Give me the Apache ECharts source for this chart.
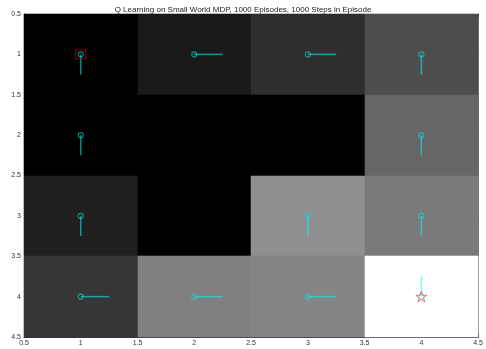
<!DOCTYPE html>
<html>
<head>
<meta charset="utf-8">
<script src="https://cdn.jsdelivr.net/npm/echarts@6/dist/echarts.min.js"></script>
<style>
  html, body { margin: 0; padding: 0; background: #fff; }
  #chart { width: 486px; height: 349px; }
</style>
</head>
<body>
<div id="chart"></div>
<script>
// Grid world: column (x) and row (y) indices
const cols = [1, 2, 3, 4];
const rows = [1, 2, 3, 4];

// Max state value per cell, rows top to bottom (0 = black, 1 = white)
const valueRow1 = [0.00, 0.10, 0.18, 0.30];
const valueRow2 = [0.00, 0.00, 0.00, 0.40];
const valueRow3 = [0.12, 0.00, 0.56, 0.48];
const valueRow4 = [0.21, 0.50, 0.52, 1.00];
const values = [valueRow1, valueRow2, valueRow3, valueRow4];

// Greedy action per cell: [dx, dy]; null marks a wall
const actionRow1 = [[0, 0.25], [0.25, 0], [0.25, 0], [0, 0.25]];
const actionRow2 = [[0, 0.25], null, null, [0, 0.25]];
const actionRow3 = [[0, 0.25], null, [0, 0.25], [0, 0.25]];
const actionRow4 = [[0.25, 0], [0.25, 0], [0.25, 0], [0, -0.25]];
const actions = [actionRow1, actionRow2, actionRow3, actionRow4];

const startCell = [1, 1];
const goalCell = [4, 4];

const titleText = 'Q Learning on Small World MDP, 1000 Episodes, 1000 Steps in Episode';

// Build data tables
const cellData = [];
const arrowData = [];
const originData = [];
rows.forEach((r, i) => {
  cols.forEach((c, j) => {
    cellData.push([c, r, values[i][j]]);
    const a = actions[i][j];
    if (a) {
      arrowData.push([c, r, a[0], a[1]]);
      originData.push([c, r]);
    }
  });
});

function grayOf(v) {
  const g = Math.round(Math.max(0, Math.min(1, v)) * 255);
  return 'rgb(' + g + ',' + g + ',' + g + ')';
}

const starPath = 'path://M50,0 L61.8,35.3 L98.9,35.3 L69,57.3 L80.3,92.7 L50,70.8 L19.7,92.7 L31,57.3 L1.1,35.3 L38.2,35.3 Z';

const labelFont = { fontFamily: 'Liberation Sans, Arial, sans-serif', fontSize: 7, color: '#333' };

const chart = echarts.init(document.getElementById('chart'), null, { renderer: 'canvas' });

chart.setOption({
  animation: false,
  backgroundColor: '#fff',
  title: {
    text: titleText,
    left: 'center',
    top: 1,
    textStyle: { fontFamily: 'Liberation Sans, Arial, sans-serif', fontSize: 8, fontWeight: 'normal', color: '#222' }
  },
  grid: { left: 24, right: 2, top: 14, bottom: 12, containLabel: false },
  xAxis: [{
    type: 'value', min: 0.5, max: 4.5, interval: 0.5, position: 'bottom',
    axisLine: { show: true, onZero: false, lineStyle: { color: '#333', width: 1 } },
    axisTick: { show: true, inside: true, length: 3, lineStyle: { color: '#333' } },
    axisLabel: Object.assign({ margin: 3, formatter: v => String(v) }, labelFont),
    splitLine: { show: false }
  }, {
    type: 'value', min: 0.5, max: 4.5, interval: 0.5, position: 'top',
    axisLine: { show: true, onZero: false, lineStyle: { color: '#777', width: 1 } },
    axisTick: { show: true, inside: true, length: 3, lineStyle: { color: '#333' } },
    axisLabel: { show: false },
    splitLine: { show: false }
  }],
  yAxis: [{
    type: 'value', min: 0.5, max: 4.5, interval: 0.5, inverse: true, position: 'left',
    axisLine: { show: true, onZero: false, lineStyle: { color: '#333', width: 1 } },
    axisTick: { show: true, inside: true, length: 3, lineStyle: { color: '#333' } },
    axisLabel: Object.assign({ margin: 3, formatter: v => String(v) }, labelFont),
    splitLine: { show: false }
  }, {
    type: 'value', min: 0.5, max: 4.5, interval: 0.5, inverse: true, position: 'right',
    axisLine: { show: true, onZero: false, lineStyle: { color: '#777', width: 1 } },
    axisTick: { show: true, inside: true, length: 3, lineStyle: { color: '#333' } },
    axisLabel: { show: false },
    splitLine: { show: false }
  }],
  series: [
    {
      // value image, one rectangle per cell
      type: 'custom',
      xAxisIndex: 0, yAxisIndex: 0,
      data: cellData,
      z: 1,
      renderItem: function (params, api) {
        const c = api.value(0), r = api.value(1);
        const p0 = api.coord([c - 0.5, r - 0.5]);
        const p1 = api.coord([c + 0.5, r + 0.5]);
        const x0 = Math.round(Math.min(p0[0], p1[0])), x1 = Math.round(Math.max(p0[0], p1[0]));
        const y0 = Math.round(Math.min(p0[1], p1[1])), y1 = Math.round(Math.max(p0[1], p1[1]));
        const col = grayOf(api.value(2));
        return {
          type: 'rect',
          shape: { x: x0, y: y0, width: x1 - x0, height: y1 - y0 },
          style: { fill: col, stroke: col, lineWidth: 0.6 }
        };
      }
    },
    {
      // policy arrows
      type: 'custom',
      xAxisIndex: 0, yAxisIndex: 0,
      data: arrowData,
      z: 3,
      renderItem: function (params, api) {
        const c = api.value(0), r = api.value(1);
        const a = api.coord([c, r]);
        const b = api.coord([c + api.value(2), r + api.value(3)]);
        return {
          type: 'line',
          shape: { x1: a[0], y1: a[1], x2: b[0], y2: b[1] },
          style: { stroke: 'rgba(0,255,255,0.55)', lineWidth: 1.5 }
        };
      }
    },
    {
      type: 'scatter',
      data: originData,
      symbol: 'circle',
      symbolSize: 5,
      z: 4,
      itemStyle: { color: 'rgba(0,0,0,0)', borderColor: 'rgba(0,230,230,0.7)', borderWidth: 1.2 }
    },
    {
      type: 'scatter',
      data: [startCell],
      symbol: 'rect',
      symbolSize: [10, 9],
      z: 5,
      itemStyle: { color: 'rgba(0,0,0,0)', borderColor: '#d00000', borderWidth: 1 }
    },
    {
      type: 'scatter',
      data: [goalCell],
      symbol: starPath,
      symbolSize: 11,
      z: 5,
      itemStyle: { color: 'rgba(0,0,0,0)', borderColor: '#f05050', borderWidth: 1 }
    }
  ]
});
</script>
</body>
</html>
